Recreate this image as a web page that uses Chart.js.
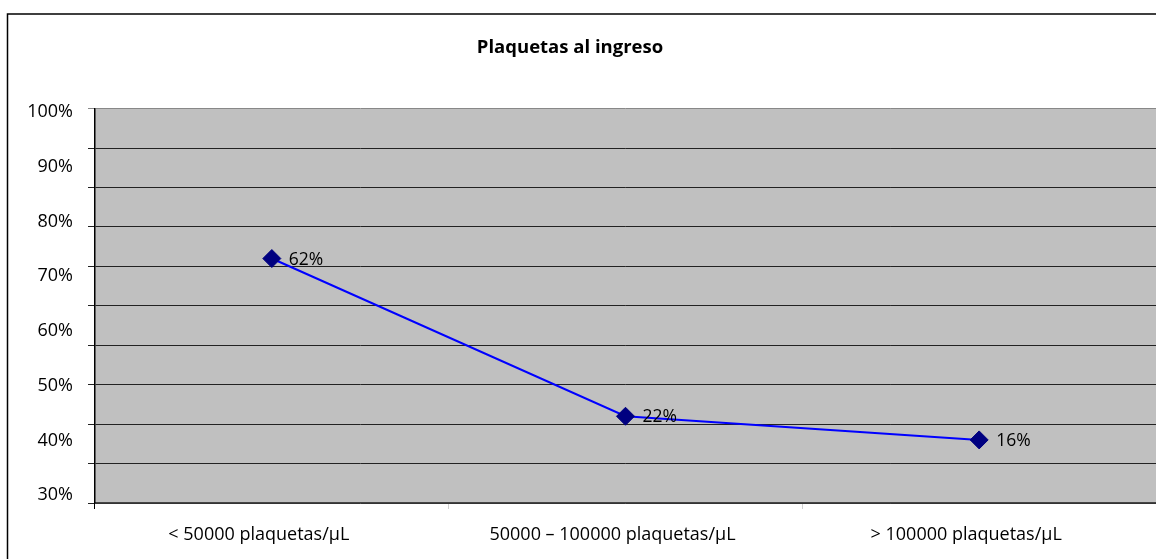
<!DOCTYPE html>
<html>
<head>
<meta charset="utf-8">
<script src="https://cdn.jsdelivr.net/npm/chart.js@4"></script>
<style>
    html, body { margin: 0; padding: 0; background: #fff; overflow: hidden; }
</style>
</head>
<body>
<canvas id="plaquetasChart" width="1156" height="559"></canvas>
<script>
const categories = ["< 50000 plaquetas/µL", "50000 – 100000 plaquetas/µL", "> 100000 plaquetas/µL"];
const percentages = [62, 22, 16];
const yTickLabels = [100, 90, 80, 70, 60, 50, 40, 30];

// grey plot area + outer frame of the original chart
const backgroundPlugin = {
    id: 'plotBackground',
    beforeDraw(chart) {
        const { ctx, chartArea } = chart;
        ctx.save();
        ctx.fillStyle = '#C0C0C0';
        ctx.fillRect(chartArea.left, chartArea.top, chartArea.right - chartArea.left, chartArea.bottom - chartArea.top);
        ctx.strokeStyle = '#000';
        ctx.lineWidth = 1.5;
        ctx.beginPath();
        ctx.moveTo(7.5, 560);
        ctx.lineTo(7.5, 14);
        ctx.lineTo(1160, 14);
        ctx.stroke();
        ctx.restore();
    }
};

// value labels to the right of each marker
const pointLabelPlugin = {
    id: 'pointLabels',
    afterDatasetsDraw(chart) {
        const { ctx } = chart;
        const meta = chart.getDatasetMeta(0);
        ctx.save();
        ctx.font = '17.5px "Open Sans"';
        ctx.fillStyle = '#000';
        ctx.textAlign = 'left';
        ctx.textBaseline = 'middle';
        meta.data.forEach((pt, i) => {
            ctx.fillText(percentages[i] + '%', pt.x + 17, pt.y + 1);
        });
        ctx.restore();
    }
};

const noPadding = axis => {
    axis.paddingTop = 0;
    axis.paddingBottom = 0;
    axis.paddingLeft = 0;
    axis.paddingRight = 0;
};

new Chart(document.getElementById('plaquetasChart'), {
    type: 'line',
    data: {
        labels: categories,
        datasets: [{
            data: percentages,
            borderColor: '#0000FF',
            borderWidth: 2,
            tension: 0,
            pointStyle: 'rectRot',
            pointRadius: 9,
            pointHoverRadius: 9,
            pointBackgroundColor: '#000080',
            pointBorderColor: '#000080',
            pointBorderWidth: 1
        }]
    },
    options: {
        responsive: false,
        animation: false,
        devicePixelRatio: 1,
        layout: { autoPadding: false, padding: { left: -16, right: 0, top: 0, bottom: 0 } },
        plugins: {
            legend: { display: false },
            tooltip: { enabled: false },
            title: {
                display: true,
                text: 'Plaquetas al ingreso',
                color: '#000',
                font: { family: 'Open Sans', size: 18.5, weight: 'bold' },
                padding: { top: 37, bottom: 49.5 }
            }
        },
        scales: {
            x: {
                offset: true,
                grid: {
                    offset: true,
                    drawOnChartArea: false,
                    drawTicks: true,
                    tickLength: 6,
                    color: ctx => ctx.index === 0 ? '#000' : '#d0d0d0'
                },
                border: { display: true, color: '#444', width: 1.5 },
                afterFit: axis => {
                    noPadding(axis);
                    axis.height = 56;
                },
                ticks: {
                    color: '#000',
                    font: { family: 'Open Sans', size: 18 },
                    padding: 15,
                    labelOffset: -13,
                    maxRotation: 0,
                    autoSkip: false
                }
            },
            y: {
                position: 'left',
                weight: 0,
                min: 0,
                max: 100,
                afterFit: noPadding,
                ticks: { display: false, stepSize: 10 },
                grid: {
                    color: ctx => ctx.tick && ctx.tick.value === 100 ? '#888' : '#222',
                    lineWidth: 1,
                    drawTicks: true,
                    tickLength: 7
                },
                border: { display: true, color: '#000', width: 1.5 }
            },
            yLabels: {
                position: 'left',
                weight: 1,
                min: 28.6,
                max: 100.6,
                grid: { display: false, drawTicks: false, tickLength: 0 },
                border: { display: false },
                afterBuildTicks: axis => {
                    axis.ticks = yTickLabels.map(v => ({ value: v }));
                },
                afterFit: axis => {
                    noPadding(axis);
                    axis.width = 104;
                },
                ticks: {
                    color: '#000',
                    font: { family: 'Open Sans', size: 18 },
                    padding: 15,
                    callback: v => v + '%'
                }
            }
        }
    },
    plugins: [backgroundPlugin, pointLabelPlugin]
});
</script>
</body>
</html>
